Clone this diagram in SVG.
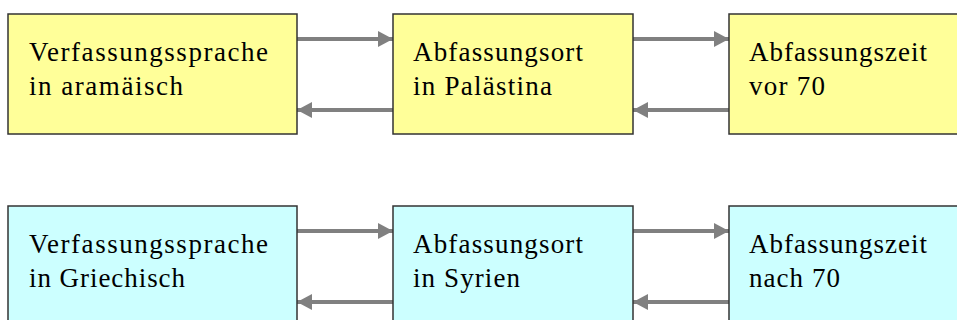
<svg xmlns="http://www.w3.org/2000/svg" width="957" height="320" viewBox="0 0 957 320">
<style>
.y{fill:#FFFF99;stroke:#333;stroke-width:1.5}
.c{fill:#CCFFFF;stroke:#333;stroke-width:1.5}
text{font-family:"Liberation Serif",serif;font-size:27px;fill:#000}
.a{stroke:#808080;stroke-width:4;fill:none}
</style>
<defs>
<marker id="h" markerWidth="15" markerHeight="16" refX="15" refY="8" orient="auto" markerUnits="userSpaceOnUse">
<path d="M0,0 L15,8 L0,16 Z" fill="#808080"/>
</marker>
</defs>
<g id="connectors">
<line class="a" x1="297" y1="39" x2="393" y2="39" marker-end="url(#h)"/>
<line class="a" x1="393" y1="110" x2="297" y2="110" marker-end="url(#h)"/>
<line class="a" x1="633" y1="39" x2="729" y2="39" marker-end="url(#h)"/>
<line class="a" x1="729" y1="110" x2="633" y2="110" marker-end="url(#h)"/>
<line class="a" x1="297" y1="231" x2="393" y2="231" marker-end="url(#h)"/>
<line class="a" x1="393" y1="302" x2="297" y2="302" marker-end="url(#h)"/>
<line class="a" x1="633" y1="231" x2="729" y2="231" marker-end="url(#h)"/>
<line class="a" x1="729" y1="302" x2="633" y2="302" marker-end="url(#h)"/>
</g>
<g id="n1"><rect class="y" x="8" y="14" width="289" height="120"/><text x="29" y="61" textLength="239" lengthAdjust="spacing">Verfassungssprache</text><text x="29" y="95" textLength="154" lengthAdjust="spacing">in aramäisch</text></g>
<g id="n2"><rect class="y" x="393" y="14" width="240" height="120"/><text x="413" y="61" textLength="170" lengthAdjust="spacing">Abfassungsort</text><text x="413" y="95" textLength="139" lengthAdjust="spacing">in Palästina</text></g>
<g id="n3"><rect class="y" x="729" y="14" width="240" height="120"/><text x="749" y="61" textLength="178" lengthAdjust="spacing">Abfassungszeit</text><text x="749" y="95" textLength="76" lengthAdjust="spacing">vor 70</text></g>
<g id="n4"><rect class="c" x="8" y="206" width="289" height="120"/><text x="29" y="253" textLength="239" lengthAdjust="spacing">Verfassungssprache</text><text x="29" y="287" textLength="156" lengthAdjust="spacing">in Griechisch</text></g>
<g id="n5"><rect class="c" x="393" y="206" width="240" height="120"/><text x="413" y="253" textLength="170" lengthAdjust="spacing">Abfassungsort</text><text x="413" y="287" textLength="107" lengthAdjust="spacing">in Syrien</text></g>
<g id="n6"><rect class="c" x="729" y="206" width="240" height="120"/><text x="749" y="253" textLength="178" lengthAdjust="spacing">Abfassungszeit</text><text x="749" y="287" textLength="91" lengthAdjust="spacing">nach 70</text></g>
</svg>
